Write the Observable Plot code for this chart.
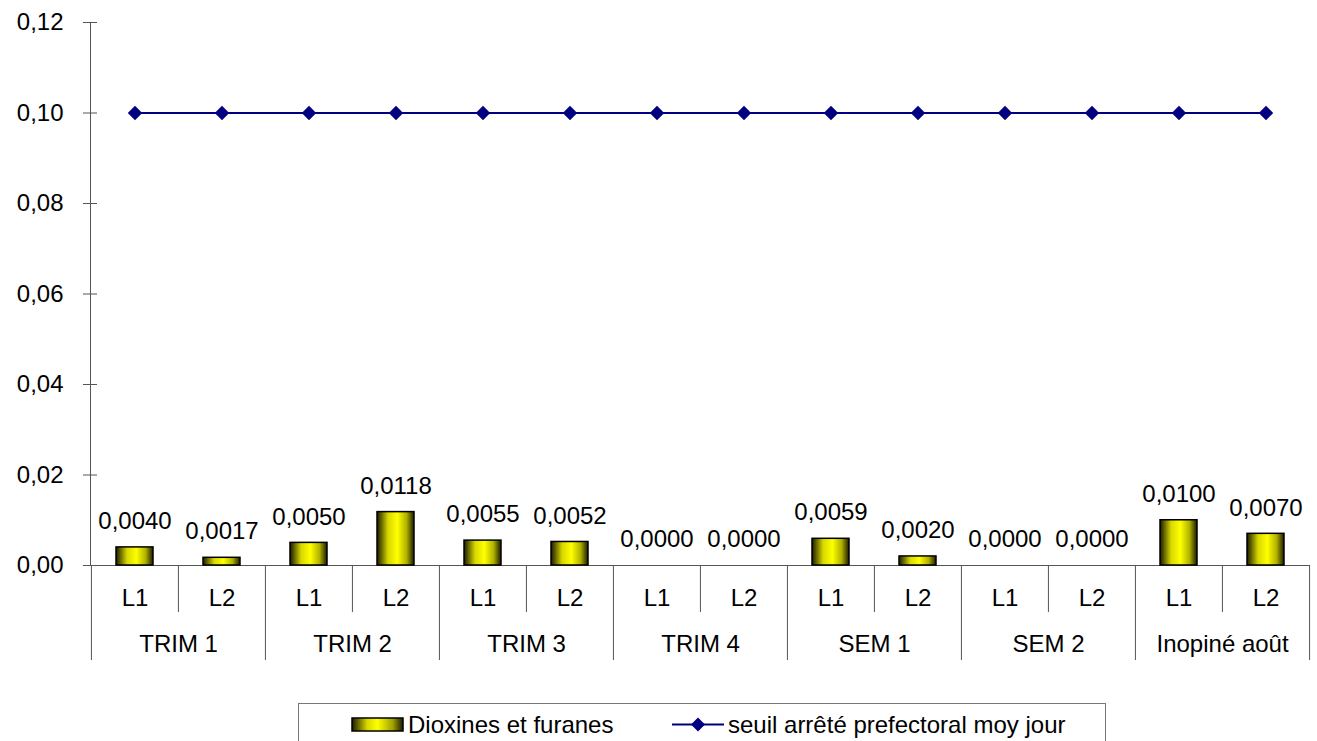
<!DOCTYPE html>
<html>
<head>
<meta charset="utf-8">
<script src="https://cdn.jsdelivr.net/npm/d3@7"></script>
<script src="https://cdn.jsdelivr.net/npm/@observablehq/plot@0.6"></script>
<style>
  html, body { margin: 0; padding: 0; background: #fff; overflow: hidden; }
  #wrap { position: relative; width: 1317px; height: 741px; font-family: "Liberation Sans", Arial, sans-serif; }
  #legend { position: absolute; left: 298px; top: 703px; width: 808px; height: 50px; border: 1px solid #777; box-sizing: border-box; font-size: 24px; color: #000; }
  #legend .sw { position: absolute; top: 11px; }
  #legend .lbl { position: absolute; top: 9px; line-height: 24px; white-space: nowrap; }
</style>
</head>
<body>
<div id="wrap">
  <div id="chart"></div>
  <div id="legend">
    <svg class="sw" style="left:52px" width="54" height="18">
      <defs>
        <linearGradient id="cylL" x1="0" x2="1" y1="0" y2="0">
          <stop offset="0" stop-color="#1a1a00"/>
          <stop offset="0.3" stop-color="#d8d800"/>
          <stop offset="0.5" stop-color="#ffff00"/>
          <stop offset="0.8" stop-color="#a0a000"/>
          <stop offset="1" stop-color="#1a1a00"/>
        </linearGradient>
      </defs>
      <rect x="1" y="3" width="51" height="13" fill="url(#cylL)" stroke="#000" stroke-width="1.5"/>
    </svg>
    <span class="lbl" style="left:109px">Dioxines et furanes</span>
    <svg class="sw" style="left:373px" width="54" height="18">
      <line x1="0" x2="52" y1="9.5" y2="9.5" stroke="#000080" stroke-width="2"/>
      <path d="M26,2.5 L33,9.5 L26,16.5 L19,9.5 Z" fill="#000080"/>
    </svg>
    <span class="lbl" style="left:429px">seuil arrêté prefectoral moy jour</span>
  </div>
</div>
<script>
// ---- Data ----
const groups = ["TRIM 1", "TRIM 2", "TRIM 3", "TRIM 4", "SEM 1", "SEM 2", "Inopiné août"];
const lines = ["L1", "L2"];
const dioxines = [0.0040, 0.0017, 0.0050, 0.0118, 0.0055, 0.0052, 0.0000, 0.0000, 0.0059, 0.0020, 0.0000, 0.0000, 0.0100, 0.0070];
const seuil = [0.10, 0.10, 0.10, 0.10, 0.10, 0.10, 0.10, 0.10, 0.10, 0.10, 0.10, 0.10, 0.10, 0.10];
const yTicks = [0, 0.02, 0.04, 0.06, 0.08, 0.10, 0.12];

// ---- Build table ----
const keys = groups.flatMap(g => lines.map(l => g + "|" + l));
const rows = keys.map((k, i) => ({ key: k, group: k.split("|")[0], line: k.split("|")[1], value: dioxines[i], seuil: seuil[i] }));
const groupStarts = groups.map(g => g + "|" + lines[0]);
const innerStarts = groups.map(g => g + "|" + lines[1]);

const W = 1317, H = 700, ML = 90, MR = 7, MT = 22, MB = 135;
const bw = (W - ML - MR) / keys.length;
const fmt2 = d => d3.format(".2f")(d).replace(".", ",");
const fmt4 = d => d3.format(".4f")(d).replace(".", ",");
const axisColor = "#555";
const FS = 24;

const chart = Plot.plot({
  width: W, height: H,
  marginLeft: ML, marginRight: MR, marginTop: MT, marginBottom: MB,
  style: { fontFamily: "'Liberation Sans', Arial, sans-serif", fontSize: FS + "px", color: "#000", background: "#fff", overflow: "visible" },
  x: { domain: keys, padding: 0, axis: null },
  y: { domain: [0, 0.12], axis: null, label: null },
  marks: [
    Plot.frame({ anchor: "left", stroke: axisColor }),
    Plot.ruleY([0], { stroke: axisColor }),
    Plot.axisY(yTicks, { tickSize: 14, dx: 7, tickPadding: 20, tickFormat: fmt2, stroke: axisColor, fill: "#000", fontSize: FS, label: null }),
    // category separators below the axis
    Plot.ruleX(groupStarts, { x: d => d, dx: -bw / 2, insetTop: H - MB - MT, insetBottom: -95, stroke: axisColor }),
    Plot.ruleX([keys[keys.length - 1]], { x: d => d, dx: bw / 2, insetTop: H - MB - MT, insetBottom: -95, stroke: axisColor }),
    Plot.ruleX(innerStarts, { x: d => d, dx: -bw / 2, insetTop: H - MB - MT, insetBottom: -47, stroke: axisColor }),
    // bars
    Plot.barY(rows, { x: "key", y: "value", fill: "url(#cyl)", stroke: "#000", strokeWidth: 1.5, insetLeft: 25, insetRight: 25 }),
    // threshold line
    Plot.line(rows, { x: "key", y: "seuil", stroke: "#000080", strokeWidth: 2 }),
    Plot.dot(rows, { x: "key", y: "seuil", symbol: "diamond2", r: 6.5, fill: "#000080", stroke: null }),
    // value labels
    Plot.text(rows, { x: "key", y: "value", text: d => fmt4(d.value), dy: -26, fontSize: FS, fill: "#000" }),
    // category labels
    Plot.axisX(keys, { tickSize: 0, tickPadding: 23, tickFormat: k => k.split("|")[1], fontSize: FS, fill: "#000", label: null }),
    Plot.text(groups, { x: g => g + "|" + lines[0], dx: bw / 2, frameAnchor: "bottom", lineAnchor: "middle", dy: 79, text: g => g, fontSize: FS, fill: "#000" })
  ]
});

d3.select(chart).insert("defs", ":first-child").html(`
  <linearGradient id="cyl" x1="0" x2="1" y1="0" y2="0">
    <stop offset="0" stop-color="#1a1a00"/>
    <stop offset="0.3" stop-color="#d8d800"/>
    <stop offset="0.55" stop-color="#ffff00"/>
    <stop offset="0.8" stop-color="#b0b000"/>
    <stop offset="1" stop-color="#1a1a00"/>
  </linearGradient>`);

document.getElementById("chart").appendChild(chart);
</script>
</body>
</html>
